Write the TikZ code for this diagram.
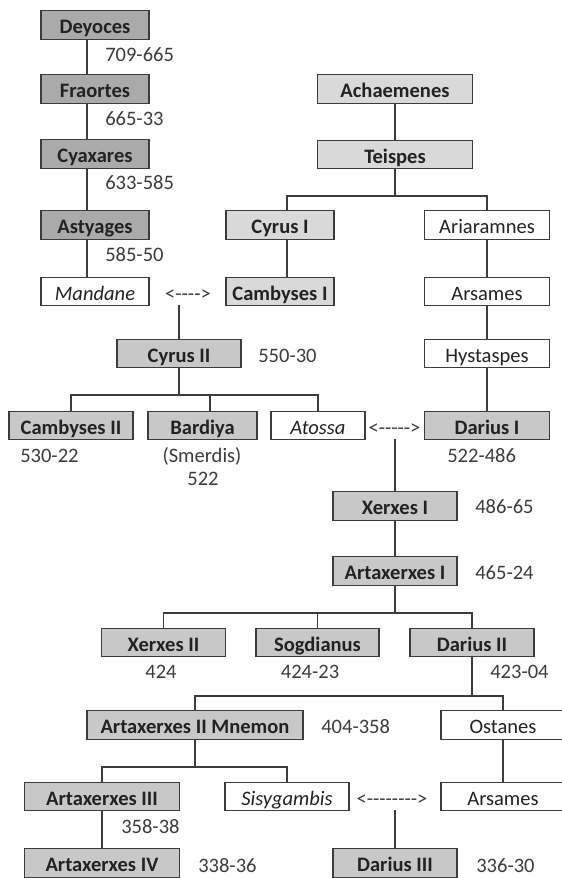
\documentclass[tikz,border=0pt]{standalone}
\usepackage{fontspec}
\setmainfont{Carlito}
\usepackage{tikz}

\definecolor{medegray}{RGB}{170,170,170}
\definecolor{kinggray}{RGB}{200,200,200}
\definecolor{clangray}{RGB}{217,217,217}
\definecolor{linegray}{RGB}{60,60,60}
\definecolor{namegray}{RGB}{34,34,34}
\definecolor{dategray}{RGB}{60,60,60}

\newcommand{\famfont}{\fontsize{15.4}{18}\selectfont}
\newcommand{\wedarrow}[1]{<\foreach \k in {1,...,#1}{-\kern0pt}>}

\tikzset{
  person/.style={draw=linegray, line width=1pt, inner sep=0pt, minimum height=21.4pt,
    text height=14.6pt, text depth=1.5pt, font=\famfont, text=namegray},
  mede/.style={person, fill=medegray, font=\famfont\bfseries},
  clan/.style={person, fill=clangray, font=\famfont\bfseries},
  king/.style={person, fill=kinggray, font=\famfont\bfseries},
  kin/.style={person, fill=white},
  queen/.style={person, fill=white, font=\famfont\itshape},
  boxw/.style={minimum width=#1*0.75pt},
  reign/.style={anchor=base west, inner sep=0pt, font=\famfont, text=dategray},
  wed/.style={anchor=base, inner sep=0pt, font=\famfont, text=dategray},
  famline/.style={draw=linegray, line width=1.15pt}
}

\begin{document}
\begin{tikzpicture}[x=0.75pt,y=0.75pt,yscale=-1,xscale=1]
  \useasboundingbox (0,0) rectangle (561,878);

  %Shape: Rectangle - Medes
  \node [mede, boxw=108] (deyoces) at (95,25) {Deyoces};
  \node [mede, boxw=108] (fraortes) at (95,89) {Fraortes};
  \node [mede, boxw=108] (cyaxares) at (95,154) {Cyaxares};
  \node [mede, boxw=108] (astyages) at (95,225) {Astyages};
  \node [queen, boxw=108] (mandane) at (95,291.5) {Mandane};

  %Shape: Rectangle - Achaemenids
  \node [clan, boxw=155] (achaemenes) at (395,89) {Achaemenes};
  \node [clan, boxw=155] (teispes) at (395,154.5) {Teispes};
  \node [clan, boxw=108] (cyrus1) at (280,225) {Cyrus I};
  \node [clan, boxw=108] (cambyses1) at (280,291.5) {Cambyses I};
  \node [kin, boxw=125] (ariaramnes) at (487,225) {Ariaramnes};
  \node [kin, boxw=125] (arsames1) at (487,291.5) {Arsames};
  \node [kin, boxw=125] (hystaspes) at (487,353.5) {Hystaspes};

  %Shape: Rectangle - kings
  \node [king, boxw=124] (cyrus2) at (179,353.5) {Cyrus II};
  \node [king, boxw=124] (cambyses2) at (71,425.5) {Cambyses II};
  \node [king, boxw=109] (bardiya) at (202.5,425.5) {Bardiya};
  \node [queen, boxw=94] (atossa) at (318,425.5) {Atossa};
  \node [king, boxw=125] (darius1) at (487,425.5) {Darius I};
  \node [king, boxw=124] (xerxes1) at (395,506) {Xerxes I};
  \node [king, boxw=124] (artaxerxes1) at (395,571) {Artaxerxes I};
  \node [king, boxw=124] (xerxes2) at (163.5,642.5) {Xerxes II};
  \node [king, boxw=123] (sogdianus) at (317.5,642.5) {Sogdianus};
  \node [king, boxw=124] (darius2) at (472,642.5) {Darius II};
  \node [king, boxw=216] (artaxerxes2) at (195,725) {Artaxerxes II Mnemon};
  \node [kin, boxw=124] (ostanes) at (503,725) {Ostanes};
  \node [king, boxw=155] (artaxerxes3) at (102,796.5) {Artaxerxes III};
  \node [queen, boxw=124] (sisygambis) at (287,796.5) {Sisygambis};
  \node [kin, boxw=124] (arsames2) at (503,796.5) {Arsames};
  \node [king, boxw=155] (artaxerxes4) at (102,863) {Artaxerxes IV};
  \node [king, boxw=124] (darius3) at (395,863) {Darius III};

  % Text Node - reigns
  \node [reign] (r-deyoces) at (105,61) {709-665};
  \node [reign] (r-fraortes) at (105,125) {665-33};
  \node [reign] (r-cyaxares) at (105,189) {633-585};
  \node [reign] (r-astyages) at (105,261.5) {585-50};
  \node [reign] (r-cyrus2) at (258,362) {550-30};
  \node [reign] (r-cambyses2) at (20,462) {530-22};
  \node [wed] (r-bardiya) at (202,462) {(Smerdis)};
  \node [wed] (r-bardiya2) at (203,485) {522};
  \node [reign] (r-darius1) at (447,462) {522-486};
  \node [reign] (r-xerxes1) at (475,513) {486-65};
  \node [reign] (r-artaxerxes1) at (475,579) {465-24};
  \node [wed] (r-xerxes2) at (161,678) {424};
  \node [wed] (r-sogdianus) at (310,678) {424-23};
  \node [reign] (r-darius2) at (490,678) {423-04};
  \node [reign] (r-artaxerxes2) at (321,733) {404-358};
  \node [reign] (r-artaxerxes3) at (121,833) {358-38};
  \node [reign] (r-artaxerxes4) at (198,872) {338-36};
  \node [reign] (r-darius3) at (476,872) {336-30};

  % Text Node - marriages
  \node [wed] (m-mandane) at (188,300) {\wedarrow{4}};
  \node [wed] (m-atossa) at (394.5,434) {\wedarrow{5}};
  \node [wed] (m-sisygambis) at (392,805) {\wedarrow{8}};

  %Straight Lines - Medes
  \foreach \a/\b in {deyoces/fraortes, fraortes/cyaxares, cyaxares/astyages, astyages/mandane}
    \draw [famline] ([xshift=-6pt]\a.south) -- ([xshift=-6pt]\a.south |- \b.north);

  %Straight Lines - Achaemenes to Hystaspes
  \draw [famline] (achaemenes.south) -- (achaemenes.south |- teispes.north);
  \coordinate (teispes-br) at (395,196);
  \draw [famline] (teispes.south) -- (teispes-br);
  \draw [famline] ([xshift=5.25pt]cyrus1.north) |- (teispes-br) -| (ariaramnes.north);
  \draw [famline] ([xshift=5.25pt]cyrus1.south) -- ([xshift=5.25pt]cyrus1.south |- cambyses1.north);
  \foreach \a/\b in {ariaramnes/arsames1, arsames1/hystaspes, hystaspes/darius1}
    \draw [famline] (\a.south) -- (\a.south |- \b.north);

  %Straight Lines - Cyrus II
  \coordinate (wed-cyrus2) at (179,305);
  \draw [famline] (wed-cyrus2) -- (wed-cyrus2 |- cyrus2.north);
  \coordinate (cyrus2-br) at (179,395);
  \draw [famline] (cyrus2-br |- cyrus2.south) -- (cyrus2-br);
  \draw [famline] (cambyses2.north) |- (cyrus2-br) -| (atossa.north);
  \draw [famline] ([xshift=5.6pt]bardiya.north) -- ([xshift=5.6pt]bardiya.north |- cyrus2-br);

  %Straight Lines - Xerxes I and after
  \coordinate (wed-xerxes1) at (395,439);
  \draw [famline] (wed-xerxes1) -- (wed-xerxes1 |- xerxes1.north);
  \draw [famline] (xerxes1.south) -- (xerxes1.south |- artaxerxes1.north);
  \coordinate (artaxerxes1-br) at (395,613);
  \draw [famline] (artaxerxes1-br |- artaxerxes1.south) -- (artaxerxes1-br);
  \draw [famline] (xerxes2.north) |- (artaxerxes1-br) -| (darius2.north);
  \draw [famline] (sogdianus.north) -- (sogdianus.north |- artaxerxes1-br);

  \coordinate (darius2-br) at (472,696);
  \draw [famline] (darius2-br |- darius2.south) -- (darius2-br);
  \draw [famline] (artaxerxes2.north) |- (darius2-br) -| (ostanes.north);

  \coordinate (artaxerxes2-br) at (195,767);
  \draw [famline] (artaxerxes2-br |- artaxerxes2.south) -- (artaxerxes2-br);
  \draw [famline] (artaxerxes3.north) |- (artaxerxes2-br) -| (sisygambis.north);
  \draw [famline] (artaxerxes3.south) -- (artaxerxes3.south |- artaxerxes4.north);
  \draw [famline] (ostanes.south) -- (ostanes.south |- arsames2.north);

  \coordinate (wed-darius3) at (395,810);
  \draw [famline] (wed-darius3) -- (wed-darius3 |- darius3.north);
\end{tikzpicture}
\end{document}
